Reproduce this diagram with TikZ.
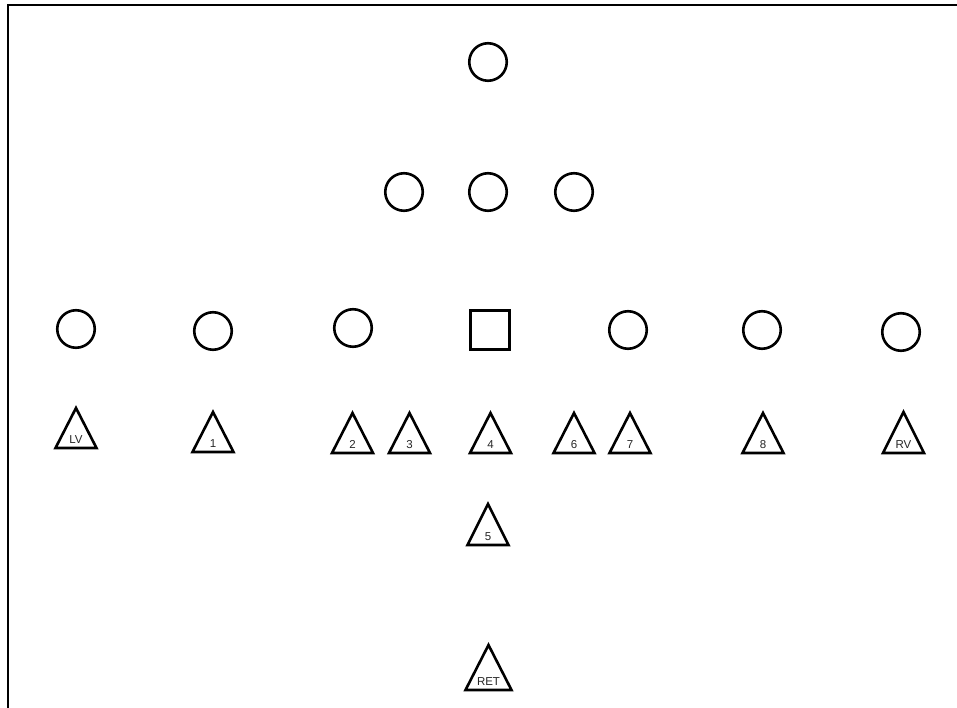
\documentclass[tikz,border=0pt]{standalone}
\usepackage{fontspec}
\setmainfont{Liberation Sans}
\begin{document}
\begin{tikzpicture}[x=1pt,y=-1pt,
  shp/.style={draw=black,line width=2.6pt},
  circ/.style={shp,circle,minimum size=37.5pt,inner sep=0pt},
  sq/.style={shp,rectangle,minimum size=39pt,inner sep=0pt},
  lbl/.style={font=\fontsize{11.5pt}{11.5pt}\selectfont,text=black!85,inner sep=0pt,anchor=base}]
\useasboundingbox (0,0) rectangle (957,708);
\draw[line width=2pt] (8,708) -- (8,5) -- (957,5);
% circles
\node[circ] (c0) at (488,62) {};
\node[circ] (c1) at (404,192) {};
\node[circ] (c2) at (488,192) {};
\node[circ] (c3) at (574,192) {};
\node[circ] (d1) at (76,329) {};
\node[circ] (d2) at (213,331) {};
\node[circ] (d3) at (353,328) {};
\node[sq]   (d4) at (490,330) {};
\node[circ] (d5) at (628,330) {};
\node[circ] (d6) at (762,330) {};
\node[circ] (d7) at (901,332) {};
% triangles
\newcommand\tri[6]{%
  \draw[shp,line join=miter] (#1-#4,#3) -- (#1,#2) -- (#1+#4,#3) -- cycle;
  \node[lbl] (#6) at (#1,#3-4.5) {#5};}
\tri{76}{408}{448}{20.5}{LV}{tLV}
\tri{213}{412}{452}{20.5}{1}{t1}
\tri{352.5}{413}{453}{20.5}{2}{t2}
\tri{409.5}{413}{453}{20.5}{3}{t3}
\tri{490.5}{413}{453}{20.5}{4}{t4}
\tri{574}{413}{453}{20.5}{6}{t6}
\tri{630}{413}{453}{20.5}{7}{t7}
\tri{763}{413}{453}{20.5}{8}{t8}
\tri{903.5}{412}{453}{20.5}{RV}{tRV}
\tri{488}{504}{545}{20.5}{5}{t5}
\tri{488.5}{645}{690}{23}{RET}{tRET}
\end{tikzpicture}
\end{document}
